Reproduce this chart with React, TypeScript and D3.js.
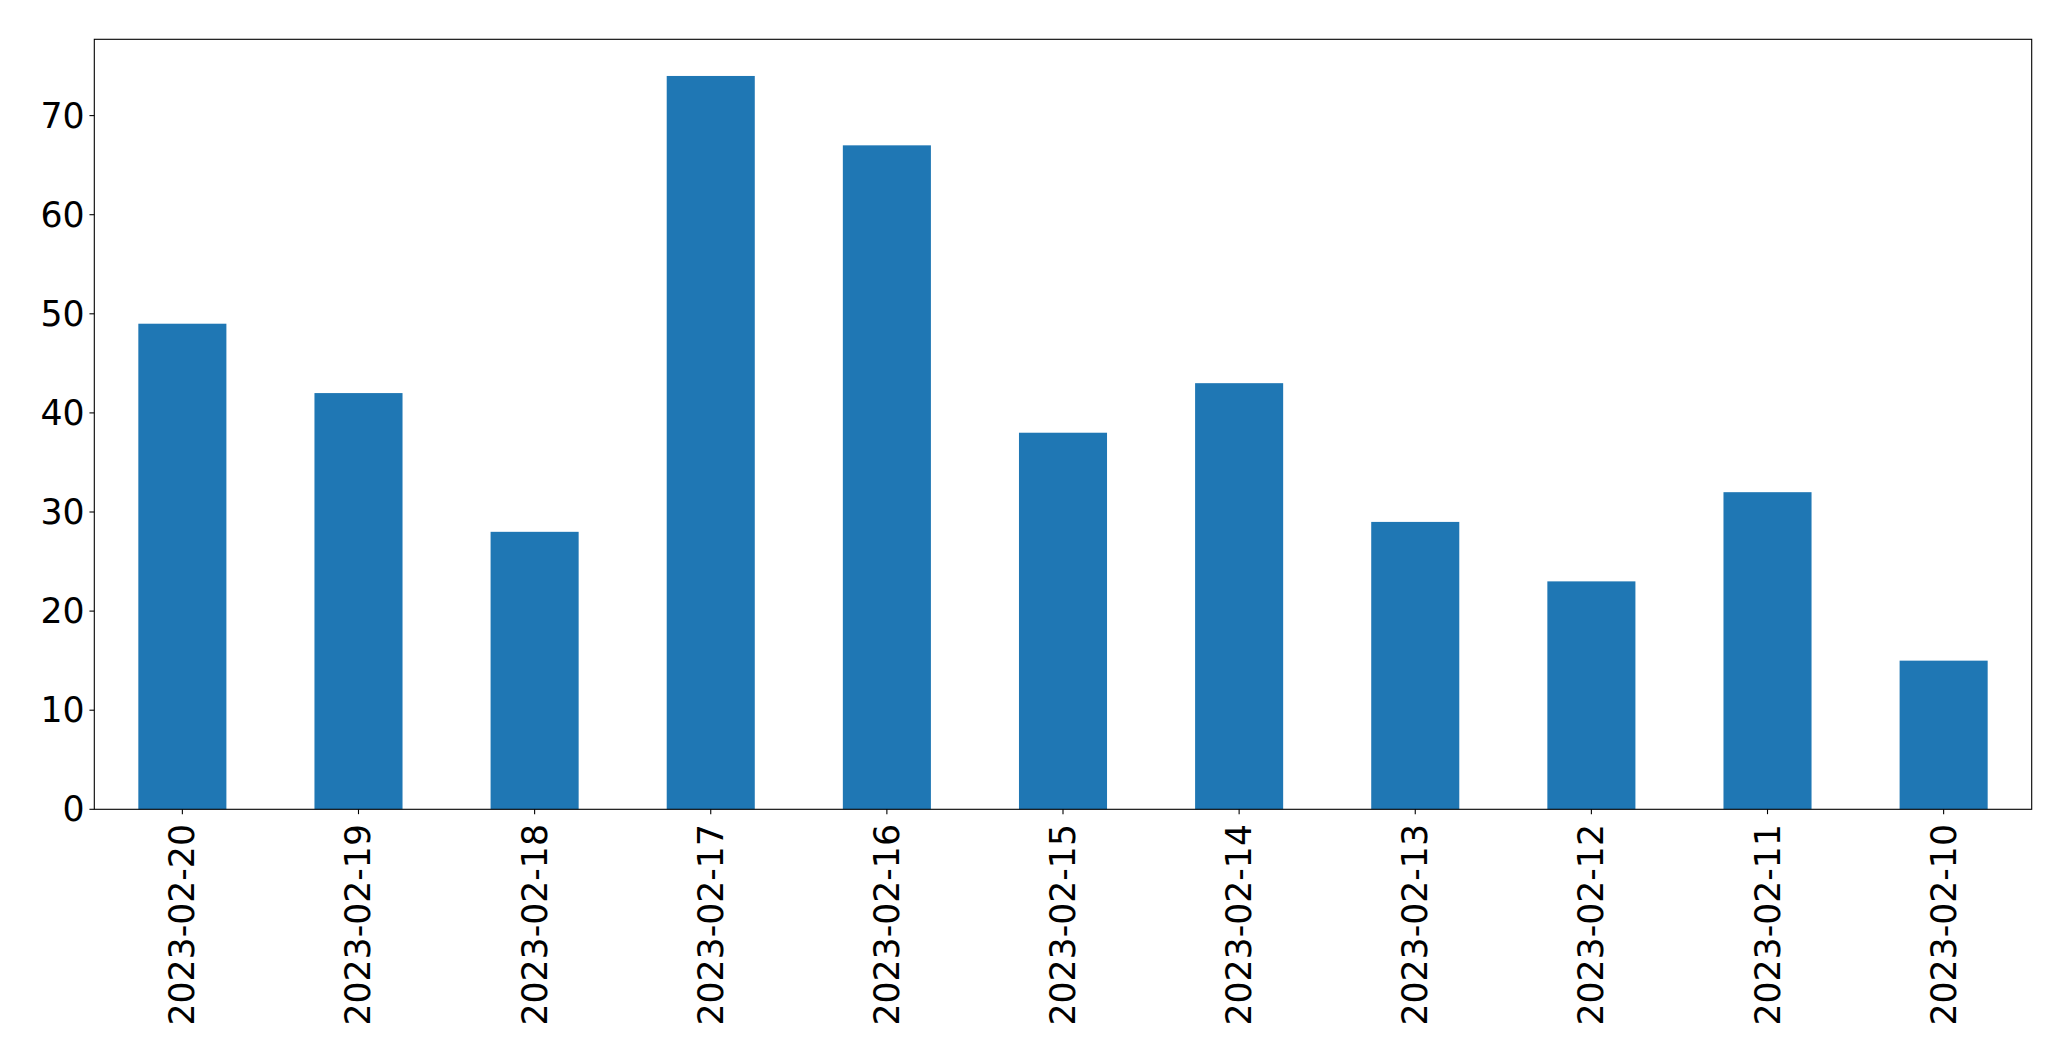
import React from "react";
import * as d3 from "d3";

const categories = ["2023-02-20","2023-02-19","2023-02-18","2023-02-17","2023-02-16","2023-02-15","2023-02-14","2023-02-13","2023-02-12","2023-02-11","2023-02-10"];
const values = [49, 42, 28, 74, 67, 38, 43, 29, 23, 32, 15];
const yTicks = [0, 10, 20, 30, 40, 50, 60, 70];

const W = 2071, H = 1061;
const left = 94.3, right = 2031.7, top = 39.3, bottom = 809.3;
const FS = 34.7;
const tickLen = 4.86, pad = 4.86;

export default function App() {
  const x = d3.scaleBand<string>().domain(categories).range([left, right]).paddingInner(0.5).paddingOuter(0.25);
  const yMax = d3.max(values)! * 1.05;
  const y = d3.scaleLinear().domain([0, yMax]).range([bottom, top]);
  const font = "DejaVu Sans";
  return (
    <svg width={W} height={H} style={{ position: "absolute", left: 0, top: 0, background: "#fff" }}>
      <rect x={0} y={0} width={W} height={H} fill="#fff" />
      {categories.map((c, i) => (
        <rect key={c} x={x(c)!} y={y(values[i])} width={x.bandwidth()} height={y(0) - y(values[i])} fill="#1f77b4" />
      ))}
      <rect x={left} y={top} width={right - left} height={bottom - top} fill="none" stroke="#000" strokeWidth={1.1} />
      {yTicks.map((t) => (
        <g key={t}>
          <line x1={left - tickLen} x2={left} y1={y(t)} y2={y(t)} stroke="#000" strokeWidth={1.1} />
          <text x={left - tickLen - pad} y={y(t)} textAnchor="end" dominantBaseline="central" fontFamily={font} fontSize={FS} fill="#000">{t}</text>
        </g>
      ))}
      {categories.map((c) => {
        const cx = x(c)! + x.bandwidth() / 2;
        const ty = bottom + tickLen + pad + 5;
        return (
          <g key={c}>
            <line x1={cx} x2={cx} y1={bottom} y2={bottom + tickLen} stroke="#000" strokeWidth={1.1} />
            <text transform={`translate(${cx},${ty}) rotate(-90)`} textAnchor="end" dominantBaseline="central" fontFamily={font} fontSize={FS} fill="#000">{c}</text>
          </g>
        );
      })}
    </svg>
  );
}
